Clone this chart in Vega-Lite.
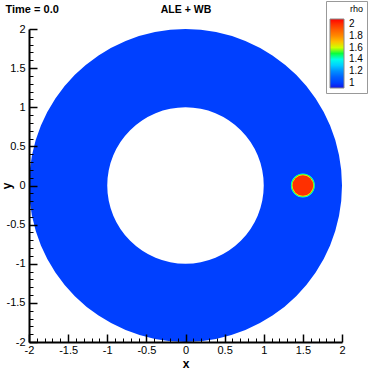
{
  "$schema": "https://vega.github.io/schema/vega-lite/v6.json",
  "width": 313,
  "height": 313,
  "autosize": {"type": "none"},
  "padding": {"left": 29, "top": 29, "right": 29, "bottom": 29},
  "background": "white",
  "config": {"view": {"stroke": null}},
  "encoding": {
    "radius": {"field": "r", "type": "quantitative", "scale": {"type": "linear", "domain": [0, 2], "range": [0, 156.5], "zero": true}},
    "radius2": {"field": "r2"},
    "color": {"field": "rho", "type": "quantitative",
      "scale": {"type": "linear",
        "domain": [0.915, 1.0, 1.1, 1.2, 1.3, 1.38, 1.46, 1.52, 1.6, 1.65, 1.75, 1.85, 2.0, 2.085],
        "range": ["#1414e6", "#0040ff", "#0060ff", "#0090ff", "#00d0ff", "#00ffff", "#00ff70", "#20ff00", "#d0ff00", "#ffe000", "#ffa000", "#ff7000", "#ff3000", "#ff0000"]},
      "legend": {"orient": "none", "legendX": 297, "legendY": -28, "title": "rho", "titleFont": "Liberation Sans", "titleFontSize": 9, "titleFontWeight": "normal", "titleColor": "black", "titleAnchor": "end", "titlePadding": 5,
        "gradientLength": 69, "gradientThickness": 14, "gradientStrokeColor": "#888", "gradientStrokeWidth": 1,
        "values": [1, 1.2, 1.4, 1.6, 1.8, 2], "labelExpr": "datum.value+''", "labelFont": "Liberation Sans", "labelFontSize": 10, "labelColor": "black", "labelOffset": 5, "labelOverlap": false,
        "strokeColor": "#999", "fillColor": "white", "padding": 4, "direction": "vertical"}}
  },
  "layer": [
    {
      "data": {"values": [{"x": 0, "y": 0, "r": 2, "r2": 1, "rho": 1.0}]},
      "mark": {"type": "arc", "theta": 0, "theta2": 6.2832},
      "encoding": {
        "x": {"field": "x", "type": "quantitative",
          "scale": {"domain": [-2, 2], "nice": false, "zero": false},
          "axis": {"orient": "bottom", "zindex": 1, "values": [-2,-1.9,-1.8,-1.7,-1.6,-1.5,-1.4,-1.3,-1.2,-1.1,-1,-0.9,-0.8,-0.7,-0.6,-0.5,-0.4,-0.3,-0.2,-0.1,0,0.1,0.2,0.3,0.4,0.5,0.6,0.7,0.8,0.9,1,1.1,1.2,1.3,1.4,1.5,1.6,1.7,1.8,1.9,2],
            "domainColor": "black", "domainWidth": 2, "tickColor": "black",
            "tickSize": {"condition": {"test": "abs(datum.value*2-round(datum.value*2))<0.01", "value": -8}, "value": -4},
            "tickWidth": {"condition": {"test": "abs(datum.value*2-round(datum.value*2))<0.01", "value": 1.5}, "value": 1},
            "labelExpr": "abs(datum.value*2-round(datum.value*2))<0.01 ? datum.value+'' : ''",
            "labelOverlap": false, "labelFlush": false, "labelPadding": 10,
            "labelFont": "Liberation Sans", "labelFontSize": 11, "labelColor": "black", "grid": false,
            "title": "x", "titleFont": "Liberation Sans", "titleFontSize": 12, "titleFontWeight": "bold", "titleColor": "black",
            "titleX": 156.5, "titleY": 25, "titleBaseline": "alphabetic"}},
        "y": {"field": "y", "type": "quantitative",
          "scale": {"domain": [-2, 2], "nice": false, "zero": false},
          "axis": {"orient": "left", "zindex": 1, "values": [-2,-1.9,-1.8,-1.7,-1.6,-1.5,-1.4,-1.3,-1.2,-1.1,-1,-0.9,-0.8,-0.7,-0.6,-0.5,-0.4,-0.3,-0.2,-0.1,0,0.1,0.2,0.3,0.4,0.5,0.6,0.7,0.8,0.9,1,1.1,1.2,1.3,1.4,1.5,1.6,1.7,1.8,1.9,2],
            "domainColor": "black", "domainWidth": 2, "tickColor": "black",
            "tickSize": {"condition": {"test": "abs(datum.value*2-round(datum.value*2))<0.01", "value": -8}, "value": -4},
            "tickWidth": {"condition": {"test": "abs(datum.value*2-round(datum.value*2))<0.01", "value": 1.5}, "value": 1},
            "labelExpr": "abs(datum.value*2-round(datum.value*2))<0.01 ? datum.value+'' : ''",
            "labelOverlap": false, "labelFlush": false, "labelPadding": 12,
            "labelFont": "Liberation Sans", "labelFontSize": 11, "labelColor": "black", "grid": false,
            "title": "y", "titleFont": "Liberation Sans", "titleFontSize": 12, "titleFontWeight": "bold", "titleColor": "black",
            "titleAngle": 270, "titleX": -19, "titleY": 156.5, "titleAlign": "center", "titleBaseline": "alphabetic"}}
      }
    },
    {
      "data": {"values": [
        {"x": 1.5, "y": 0, "r": 0.153, "r2": 0, "rho": 1.38},
        {"x": 1.5, "y": 0, "r": 0.146, "r2": 0, "rho": 1.5},
        {"x": 1.5, "y": 0, "r": 0.139, "r2": 0, "rho": 1.65},
        {"x": 1.5, "y": 0, "r": 0.132, "r2": 0, "rho": 2.0}
      ]},
      "mark": {"type": "arc", "theta": 0, "theta2": 6.2832},
      "encoding": {
        "x": {"field": "x", "type": "quantitative",
          "scale": {"domain": [-2, 2], "nice": false, "zero": false},
          "axis": {"orient": "top", "domain": false, "ticks": false, "labels": false, "grid": false,
            "title": "ALE + WB", "titleFont": "Liberation Sans", "titleFontSize": 10.5, "titleFontWeight": "bold", "titleColor": "black",
            "titleAlign": "center", "titleX": 156.5, "titleY": -17, "titleBaseline": "alphabetic"}},
        "y": {"field": "y", "type": "quantitative",
          "scale": {"domain": [-2, 2], "nice": false, "zero": false},
          "axis": {"orient": "right", "domain": false, "ticks": false, "labels": false, "grid": false,
            "title": "Time = 0.0", "titleFont": "Liberation Sans", "titleFontSize": 11, "titleFontWeight": "bold", "titleColor": "black",
            "titleAngle": 0, "titleAlign": "left", "titleX": -337, "titleY": -17, "titleBaseline": "alphabetic"}}
      }
    }
  ],
  "resolve": {"axis": {"x": "independent", "y": "independent"}}
}
